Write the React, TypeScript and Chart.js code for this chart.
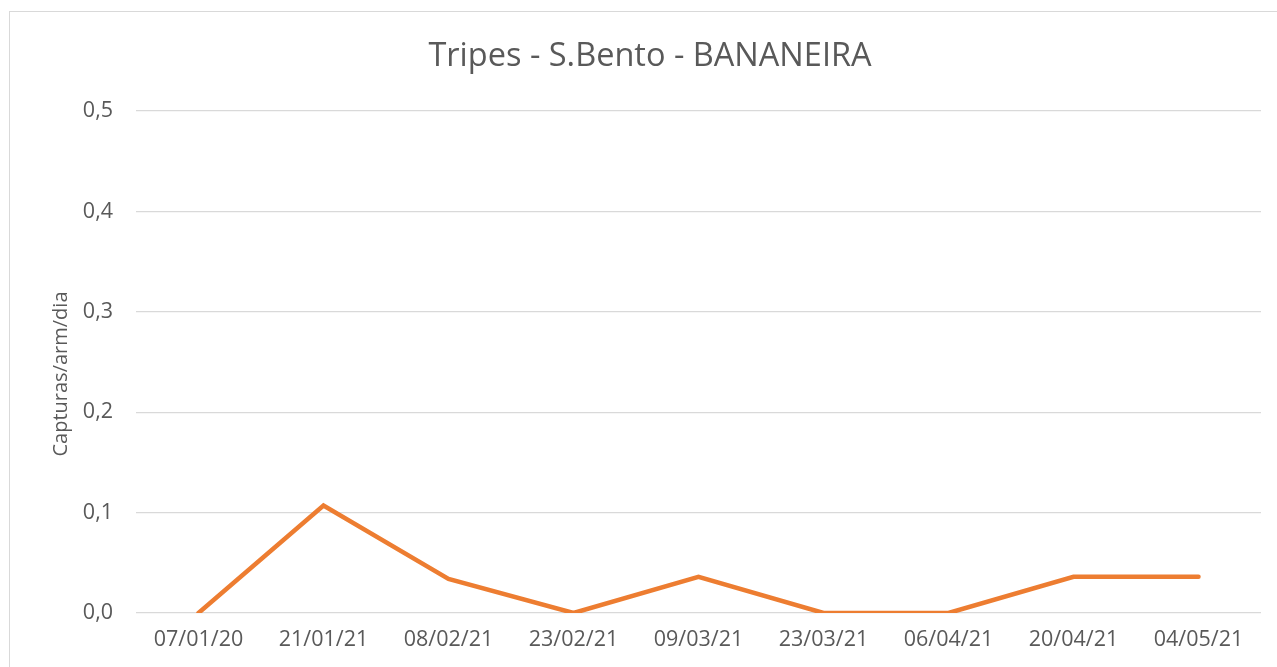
import React, { useEffect, useRef } from "react";
import { Chart, registerables } from "chart.js";
Chart.register(...registerables);

const categories = ["07/01/20", "21/01/21", "08/02/21", "23/02/21", "09/03/21", "23/03/21", "06/04/21", "20/04/21", "04/05/21"];
const capturas = [0, 0.107, 0.034, 0, 0.036, 0, 0, 0.036, 0.036];
const yMin = 0;
const yMax = 0.5;
const yStep = 0.1;
const chartTitle = "Tripes - S.Bento - BANANEIRA";
const yAxisTitle = "Capturas/arm/dia";

const FONT = "'Open Sans', sans-serif";
const TEXT = "#595959";
const GRID = "#D9D9D9";

const yTitlePlugin = {
  id: "yTitlePlugin",
  afterDraw(chart: any) {
    const ctx = chart.ctx;
    ctx.save();
    ctx.translate(51, 362);
    ctx.rotate(-Math.PI / 2);
    ctx.font = `normal 20px ${FONT}`;
    ctx.fillStyle = TEXT;
    ctx.textAlign = "center";
    ctx.textBaseline = "middle";
    ctx.fillText(yAxisTitle, 0, 0);
    ctx.restore();
  },
};

export default function App() {
  const ref = useRef<HTMLCanvasElement | null>(null);
  useEffect(() => {
    if (!ref.current) return;
    const chart = new Chart(ref.current, {
      type: "line",
      data: {
        labels: categories,
        datasets: [
          {
            label: yAxisTitle,
            data: capturas,
            borderColor: "#ED7D31",
            backgroundColor: "#ED7D31",
            borderWidth: 4.5,
            pointRadius: 0,
            pointHoverRadius: 0,
            borderCapStyle: "round",
            borderJoinStyle: "miter",
            tension: 0,
          },
        ],
      },
      options: {
        responsive: false,
        animation: false,
        layout: { padding: { left: 0, right: 0, top: 0, bottom: 0 } },
        plugins: {
          legend: { display: false },
          tooltip: { enabled: false },
          title: {
            display: true,
            text: chartTitle,
            color: TEXT,
            font: { family: FONT, size: 32.5, weight: "normal", lineHeight: 1.2 },
            padding: { top: 25.5, bottom: 34.5 },
          },
        },
        scales: {
          x: {
            offset: true,
            grid: { display: false, drawTicks: false },
            border: { display: false },
            ticks: {
              color: TEXT,
              font: { family: FONT, size: 21.5 },
              padding: 14,
              maxRotation: 0,
              autoSkip: false,
            },
            afterFit: (s: any) => {
              s.height = 55;
            },
          },
          y: {
            min: yMin,
            max: yMax,
            grid: { color: GRID, lineWidth: 1.3, drawTicks: false },
            border: { display: false },
            ticks: {
              stepSize: yStep,
              color: TEXT,
              font: { family: FONT, size: 21.5 },
              padding: 23,
              callback: (v: any) => Number(v).toFixed(1).replace(".", ","),
            },
            afterFit: (s: any) => {
              s.width = 126;
            },
          },
          yRight: {
            position: "right",
            display: true,
            min: yMin,
            max: yMax,
            grid: { display: false, drawTicks: false },
            border: { display: false },
            ticks: { display: false },
            afterFit: (s: any) => {
              s.width = 29;
            },
          },
        },
      },
      plugins: [yTitlePlugin],
    });
    return () => chart.destroy();
  }, []);

  return (
    <div style={{ position: "fixed", left: 0, top: 0, width: 1277, height: 667, overflow: "hidden", background: "#fff" }}>
      <div
        style={{
          position: "absolute",
          left: 9,
          top: 11,
          width: 1280,
          height: 700,
          border: `1px solid ${GRID}`,
          background: "#fff",
        }}
      >
        <canvas ref={ref} width={1280} height={656} style={{ display: "block" }} />
      </div>
    </div>
  );
}
